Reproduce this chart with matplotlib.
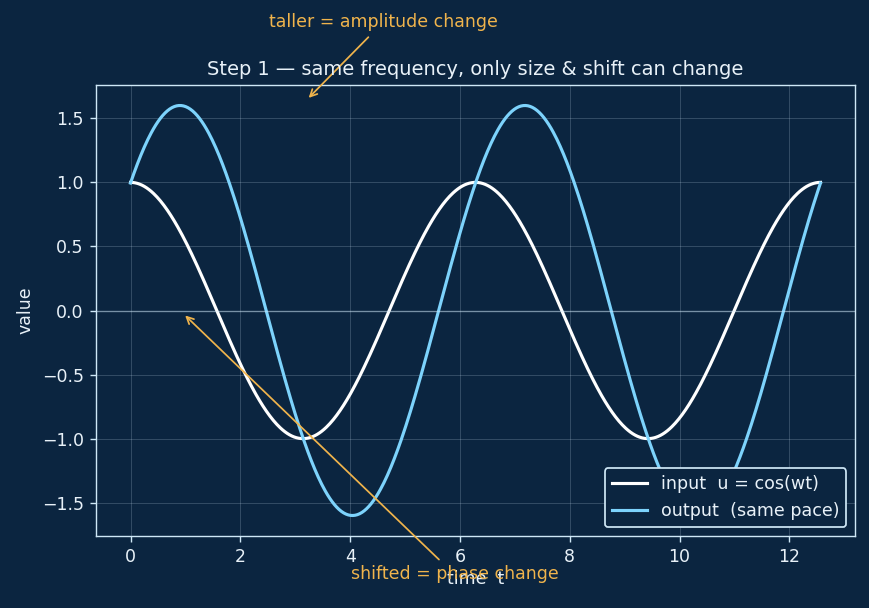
import numpy as np
import matplotlib.pyplot as plt

plt.rcParams['font.family'] = ['DejaVu Sans']

# readings from the picture
omega = 1.0
t_end = 4 * np.pi
input_amp = 1.0
output_amp = 1.6
output_phase = 0.9   # rad, output lags the input

bg = "#0b2540"
fg = "#e8f1f8"
edge = "#cfe8f7"
orange = "#f0b44c"
blue = "#7dd3fc"

t = np.linspace(0, t_end, 600)
u = input_amp * np.cos(omega * t)
y = output_amp * np.cos(omega * t - output_phase)

fig = plt.figure(figsize=(869 / 125, 608 / 125), dpi=125, facecolor=bg)
ax = fig.add_axes([96 / 869, 1 - 536 / 608, (855 - 96) / 869, (536 - 85) / 608])
ax.set_facecolor(bg)

ax.plot(t, u, color="white", lw=1.8, label="input  u = cos(wt)")
ax.plot(t, y, color=blue, lw=1.8, label="output  (same pace)")
ax.axhline(0, color=edge, lw=0.8, alpha=0.45)

ax.grid(True, color=edge, alpha=0.2, lw=0.6)
for s in ax.spines.values():
    s.set_color(edge)
ax.tick_params(colors=edge, labelcolor=fg, labelsize=10)

ax.set_title("Step 1 — same frequency, only size & shift can change", color=fg, fontsize=11.2, pad=6)
ax.set_xlabel("time  t", color=fg, fontsize=10, labelpad=2)
ax.set_ylabel("value", color=fg, fontsize=10)

ax.annotate("taller = amplitude change", xy=(3.2, 1.64), xytext=(4.6, 2.25),
            color=orange, fontsize=10, ha="center", va="center",
            arrowprops=dict(arrowstyle="->", color=orange, lw=1),
            annotation_clip=False)
ax.annotate("shifted = phase change", xy=(0.95, -0.02), xytext=(5.9, -2.06),
            color=orange, fontsize=10, ha="center", va="center",
            arrowprops=dict(arrowstyle="->", color=orange, lw=1),
            annotation_clip=False)

leg = ax.legend(loc="lower right", facecolor=bg, edgecolor=edge, fontsize=10.1, framealpha=1)
for txt in leg.get_texts():
    txt.set_color(fg)

fig.savefig("out.png", facecolor=bg)
